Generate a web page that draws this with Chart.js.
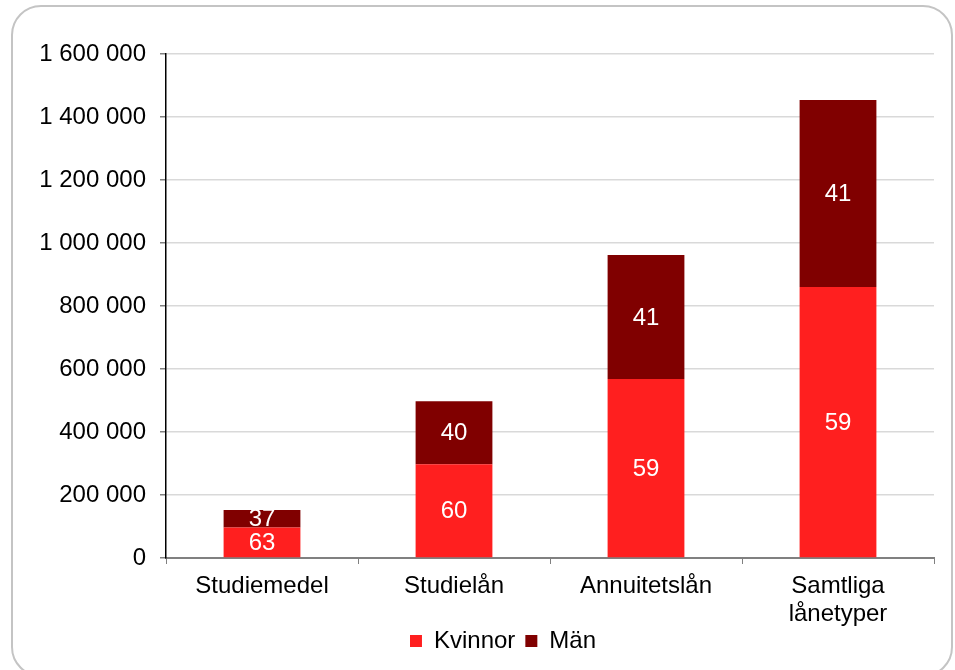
<!DOCTYPE html>
<html>
<head>
<meta charset="utf-8">
<script src="https://cdn.jsdelivr.net/npm/chart.js@4"></script>
<style>
  body { margin: 0; background: #fff; }
  #wrap { position: relative; width: 955px; height: 670px; overflow: hidden; }
  #frame {
    position: absolute; left: 11px; top: 5px; width: 942px; height: 672px;
    box-sizing: border-box; border: 2px solid #c4c4c4; border-radius: 30px;
  }
  #chart { position: absolute; left: 0; top: 0; }
</style>
</head>
<body>
<div id="wrap">
  <div id="frame"></div>
  <canvas id="chart" width="955" height="670"></canvas>
</div>
<script>
const categories = ["Studiemedel", "Studielån", "Annuitetslån", ["Samtliga", "lånetyper"]];
const kvinnor = [97000, 298000, 568000, 860000];
const man = [55000, 200000, 394000, 594000];
// percentage shown inside each bar segment
const kvinnorPct = [63, 60, 59, 59];
const manPct = [37, 40, 41, 41];

const FONT = "'Liberation Sans', Arial, sans-serif";

function spaced(v) {
  return String(v).replace(/\B(?=(\d{3})+(?!\d))/g, " ");
}

const segmentLabels = {
  id: "segmentLabels",
  afterDatasetsDraw(chart) {
    const c = chart.ctx;
    c.save();
    c.fillStyle = "#ffffff";
    c.font = "24px " + FONT;
    c.textAlign = "center";
    c.textBaseline = "middle";
    chart.data.datasets.forEach((ds, i) => {
      const meta = chart.getDatasetMeta(i);
      meta.data.forEach((bar, j) => {
        const y = (bar.y + bar.base) / 2;
        c.fillText(String(ds.pct[j]), bar.x, y + 1);
      });
    });
    c.restore();
  }
};

// nudge the legend up/right so it sits under the axis labels like the original
const legendNudge = {
  id: "legendNudge",
  afterLayout(chart) {
    const lg = chart.legend;
    lg.top -= 11; lg.bottom -= 11;
    lg.left += 36; lg.right += 36;
  }
};

const ctx = document.getElementById("chart");

let chart = new Chart(ctx, {
  type: "bar",
  data: {
    labels: categories,
    datasets: [
      { label: "Kvinnor", data: kvinnor, pct: kvinnorPct, backgroundColor: "#ff1f1f" },
      { label: "Män", data: man, pct: manPct, backgroundColor: "#800000" }
    ]
  },
  options: {
    responsive: false,
    devicePixelRatio: 1,
    animation: false,
    categoryPercentage: 0.8,
    barPercentage: 0.5,
    layout: { padding: { left: 0, right: 21, top: 54, bottom: 4 } },
    plugins: {
      tooltip: { enabled: false },
      legend: {
        position: "bottom",
        maxHeight: 36,
        labels: {
          color: "#000",
          font: { family: FONT, size: 24 },
          boxWidth: 12,
          boxHeight: 12,
          padding: 10
        }
      }
    },
    scales: {
      x: {
        stacked: true,
        afterFit: s => { s.height = 72; },
        border: { color: "#808080", width: 2 },
        grid: {
          offset: true,
          drawOnChartArea: false,
          drawTicks: true,
          tickLength: 6,
          tickColor: "#808080",
          color: "#808080"
        },
        ticks: {
          color: "#000",
          padding: 8,
          maxRotation: 0,
          font: { family: FONT, size: 24, lineHeight: 1.17 }
        }
      },
      y: {
        stacked: true,
        min: 0,
        max: 1600000,
        afterFit: s => { s.width = 166; },
        border: { color: "#000", width: 1.5 },
        grid: {
          color: "#d9d9d9",
          lineWidth: 1.5,
          tickLength: 6,
          tickColor: "#808080"
        },
        ticks: {
          stepSize: 200000,
          color: "#000",
          padding: 14,
          font: { family: FONT, size: 24 },
          callback: v => spaced(v)
        }
      }
    }
  },
  plugins: [segmentLabels, legendNudge]
});
</script>
</body>
</html>
